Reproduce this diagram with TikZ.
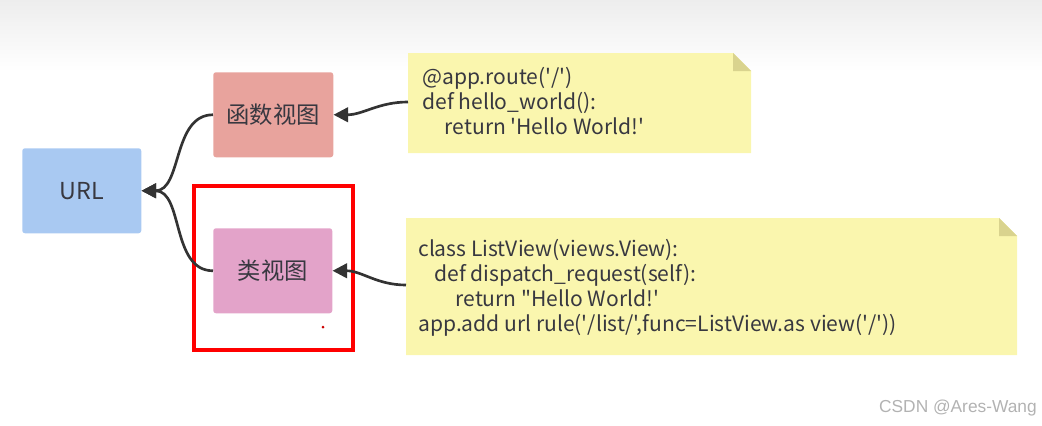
\documentclass[tikz,border=0pt]{standalone}
\usepackage{fontspec}
\setmainfont{Noto Sans CJK SC}
\newfontfamily\codefont{Noto Sans CJK SC}
\newfontfamily\wmfont{Liberation Sans}
\usetikzlibrary{arrows.meta}
\definecolor{urlblue}{HTML}{A9C9F2}
\definecolor{funcred}{HTML}{E8A39D}
\definecolor{classpink}{HTML}{E3A3C9}
\definecolor{noteyellow}{HTML}{FAF6AE}
\definecolor{notefold}{HTML}{D9D38E}
\definecolor{linegray}{HTML}{333333}
\definecolor{textgray}{HTML}{383840}
\begin{document}
\begin{tikzpicture}[x=0.75pt,y=-0.75pt,
  box/.style={rounded corners=2pt,inner sep=0pt,font=\fontsize{17.5}{20}\selectfont,text=textgray},
  conn/.style={draw=linegray,line width=2pt,-{Triangle[length=11pt,width=11pt]}},
  codetext/.style={anchor=north west,align=left,inner sep=0pt,font=\codefont\fontsize{15.8}{18.75}\selectfont,text=textgray}]
\useasboundingbox (0,0) rectangle (1042,425);
\shade[top color=black!7,bottom color=white] (0,0) rectangle (1042,72);
% notes
\fill[noteyellow] (408,53) -- (733,53) -- (751,71) -- (751,153) -- (408,153) -- cycle;
\fill[notefold] (733,53) -- (751,71) -- (733,71) -- cycle;
\fill[noteyellow] (406,218) -- (999,218) -- (1017,236) -- (1017,355) -- (406,355) -- cycle;
\fill[notefold] (999,218) -- (1017,236) -- (999,236) -- cycle;
\coordinate (n1) at (408,102);
\coordinate (n2) at (406,285);
\node[codetext] (c1) at (422,67) {@app.route('/')\\def hello\_world():\\\hspace{17pt}return 'Hello World!'};
\node[codetext] (c2) at (418,239) {class ListView(views.View):\\\hspace{12pt}def dispatch\_request(self):\\\hspace{28pt}return "Hello World!'\\app.add url rule('/list/',func=ListView.as view('/'))};
% boxes
\node[box,fill=urlblue,minimum width=89.25pt,minimum height=63.75pt,anchor=north west] (url) at (22,148) {URL};
\node[box,fill=funcred,minimum width=90pt,minimum height=63.75pt,anchor=north west] (func) at (213,72) {函数视图};
\node[box,fill=classpink,minimum width=89.25pt,minimum height=63.75pt,anchor=north west] (cls) at (213,228) {类视图};
% red highlight
\draw[red,line width=2.5pt] (194,186) rectangle (353,350);
\fill[red!80!black] (323,327) circle (1.5);
% connectors
\draw[conn] (n1) to[out=180,in=0] (func.east);
\draw[conn] (n2) to[out=180,in=0] (cls.east);
\draw[conn] (func.west) to[out=180,in=0] (url.east);
\draw[conn] (cls.west) to[out=180,in=0] (url.east);
\node[anchor=east,inner sep=0pt,font=\wmfont\fontsize{13}{15}\selectfont,text=black!30] (wm) at (1037,408) {CSDN @Ares-Wang};
\end{tikzpicture}
\end{document}
